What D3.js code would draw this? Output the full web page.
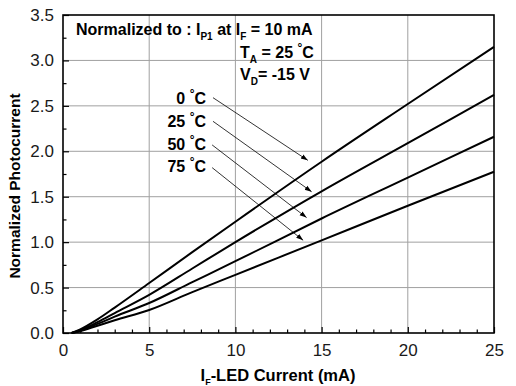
<!DOCTYPE html>
<html><head><meta charset="utf-8">
<script src="https://cdn.jsdelivr.net/npm/d3@7"></script>
<style>body{margin:0;background:#fff}svg{display:block}text{font-family:Arial,"Liberation Sans",sans-serif}</style>
</head><body>
<svg id="c" width="516" height="386"></svg>
<script>
const current = [0.5, 1, 2, 3, 5, 7.5, 10, 15, 20, 25];
const series0 = [0, 0.04, 0.15, 0.28, 0.55, 0.89, 1.225, 1.885, 2.52, 3.15];
const series25 = [0, 0.03, 0.12, 0.22, 0.42, 0.71, 1.0, 1.56, 2.09, 2.62];
const series50 = [0, 0.025, 0.10, 0.18, 0.33, 0.56, 0.79, 1.26, 1.71, 2.16];
const series75 = [0, 0.02, 0.08, 0.14, 0.253, 0.45, 0.64, 1.02, 1.40, 1.775];
const seriesNames = ["0 °C", "25 °C", "50 °C", "75 °C"];
const xTicks = [0, 5, 10, 15, 20, 25];
const yTicks = [0, 0.5, 1.0, 1.5, 2.0, 2.5, 3.0, 3.5];
// annotation anchors in data units: label y, arrow start, arrow tip
const labelX = 8.3;
const labelY = [2.59, 2.33, 2.08, 1.84];
const arrowStart = [[8.7, 2.59], [8.7, 2.33], [8.65, 2.07], [8.65, 1.82]];
const arrowTip = [[14.2, 1.90], [14.42, 1.555], [14.13, 1.27], [13.93, 1.02]];

const svg = d3.select("#c");
const L = 63, R = 494, T = 15, B = 333;
const x = d3.scaleLinear().domain([0, 25]).range([L, R]);
const y = d3.scaleLinear().domain([0, 3.5]).range([B, T]);

svg.append("defs").append("marker").attr("id","ah").attr("viewBox","0 0 10 10")
  .attr("refX",10).attr("refY",5).attr("markerWidth",7).attr("markerHeight",7)
  .attr("orient","auto").attr("markerUnits","userSpaceOnUse")
  .append("path").attr("d","M0,1.5L10,5L0,8.5Z").attr("fill","#000");

// grid
const g = svg.append("g");
g.selectAll(".gx").data(xTicks.slice(1,-1)).join("line")
  .attr("x1",d=>x(d)).attr("x2",d=>x(d)).attr("y1",T).attr("y2",B)
  .attr("stroke","#a0a0a0").attr("stroke-width",1);
g.selectAll(".gy").data(yTicks.slice(1,-1)).join("line")
  .attr("y1",d=>y(d)).attr("y2",d=>y(d)).attr("x1",L).attr("x2",R)
  .attr("stroke","#a0a0a0").attr("stroke-width",1);

// axes (ticks inward)
const xAxis = d3.axisBottom(x).tickValues(xTicks).tickSize(-6).tickPadding(11).tickFormat(d3.format("d"));
const xMinor = d3.axisBottom(x).tickValues(d3.range(1,25).filter(v=>v%5)).tickSize(-3.5).tickFormat("");
const yAxis = d3.axisLeft(y).tickValues(yTicks).tickSize(-6).tickPadding(9).tickFormat(d3.format(".1f"));
const yMinor = d3.axisLeft(y).tickValues(d3.range(0.25,3.5,0.5)).tickSize(-3.5).tickFormat("");

function style(sel){
  sel.select(".domain").remove();
  sel.selectAll("line").attr("stroke","#000").attr("stroke-width",1.2);
  sel.selectAll("text").attr("font-size",17).attr("fill","#1a1a1a");
}
svg.append("g").attr("transform",`translate(0,${B})`).call(xAxis).call(style);
svg.append("g").attr("transform",`translate(0,${B})`).call(xMinor).call(style);
svg.append("g").attr("transform",`translate(${L},0)`).call(yAxis).call(style);
svg.append("g").attr("transform",`translate(${L},0)`).call(yMinor).call(style);

// frame
svg.append("rect").attr("x",L).attr("y",T).attr("width",R-L).attr("height",B-T)
  .attr("fill","none").attr("stroke","#000").attr("stroke-width",1.6);

// curves
const allSeries = [series0, series25, series50, series75];
const line = d3.line().x(d=>x(d[0])).y(d=>y(d[1])).curve(d3.curveMonotoneX);
allSeries.forEach(s=>{
  svg.append("path").datum(current.map((c,i)=>[c,s[i]]))
    .attr("d",line).attr("fill","none").attr("stroke","#000").attr("stroke-width",2);
});

// annotation labels and arrows
seriesNames.forEach((n,i)=>{
  const parts = n.split(" °");
  const t = svg.append("text").attr("x",x(labelX)).attr("y",y(labelY[i])+6)
    .attr("text-anchor","end").attr("font-size",16).attr("font-weight","bold");
  t.append("tspan").text(parts[0]+" ");
  t.append("tspan").attr("dy",-6).attr("font-size",12).text("°");
  t.append("tspan").attr("dy",6).text(parts[1]);
  svg.append("line").attr("x1",x(arrowStart[i][0])).attr("y1",y(arrowStart[i][1]))
    .attr("x2",x(arrowTip[i][0])).attr("y2",y(arrowTip[i][1]))
    .attr("stroke","#000").attr("stroke-width",0.8).attr("marker-end","url(#ah)");
});

// info text
function sub(t, s){ t.append("tspan").attr("dy",5).attr("font-size",10).text(s); }
const t1 = svg.append("text").attr("x",76).attr("y",35).attr("font-size",16).attr("font-weight","bold");
t1.append("tspan").text("Normalized to : I");
sub(t1,"P1");
t1.append("tspan").attr("dy",-5).text(" at I");
sub(t1,"F");
t1.append("tspan").attr("dy",-5).text(" = 10 mA");

const t2 = svg.append("text").attr("x",240).attr("y",58).attr("font-size",16).attr("font-weight","bold");
t2.append("tspan").text("T");
sub(t2,"A");
t2.append("tspan").attr("dy",-5).text(" = 25 ");
t2.append("tspan").attr("dy",-6).attr("font-size",12).text("°");
t2.append("tspan").attr("dy",6).text("C");

const t3 = svg.append("text").attr("x",240).attr("y",80).attr("font-size",16).attr("font-weight","bold");
t3.append("tspan").text("V");
sub(t3,"D");
t3.append("tspan").attr("dy",-5).text("= -15 V");

// axis titles
svg.append("text").attr("transform",`translate(20,186) rotate(-90)`).attr("text-anchor","middle")
  .attr("font-size",15.5).attr("font-weight","bold").text("Normalized Photocurrent");
const xt = svg.append("text").attr("x",278).attr("y",381).attr("text-anchor","middle")
  .attr("font-size",16.5).attr("font-weight","bold");
xt.append("tspan").text("I");
xt.append("tspan").attr("dy",4).attr("font-size",9).text("F");
xt.append("tspan").attr("dy",-4).text("-LED Current (mA)");
</script>
</body></html>
